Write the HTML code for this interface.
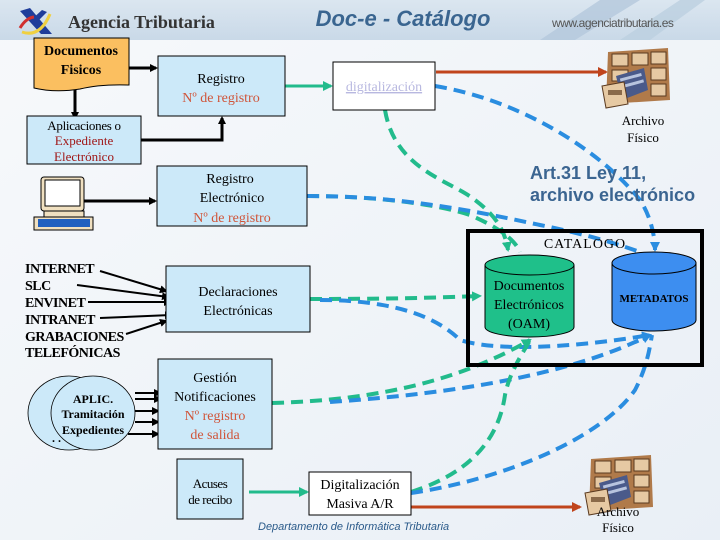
<!DOCTYPE html>
<html><head><meta charset="utf-8"><style>
html,body{margin:0;padding:0;}
body{width:720px;height:540px;overflow:hidden;background:#f3f6fa;}
svg{display:block;}
.s{font-family:"Liberation Serif",serif;}
</style></head><body>
<svg width="720" height="540" viewBox="0 0 720 540" xmlns="http://www.w3.org/2000/svg">
<defs>
<linearGradient id="hd" x1="0" y1="0" x2="0" y2="1"><stop offset="0" stop-color="#dbe6f0"/><stop offset="1" stop-color="#c9d9e8"/></linearGradient>
<linearGradient id="bg" x1="0" y1="0" x2="1" y2="1"><stop offset="0" stop-color="#f7f9fb"/><stop offset="1" stop-color="#e9eff6"/></linearGradient>
<marker id="ak" markerWidth="8" markerHeight="8" refX="6" refY="4" orient="auto" markerUnits="userSpaceOnUse"><path d="M0,0 L8,4 L0,8 z" fill="#000"/></marker>
<marker id="ag" markerWidth="10" markerHeight="10" refX="8" refY="5" orient="auto" markerUnits="userSpaceOnUse"><path d="M0,0 L10,5 L0,10 z" fill="#22bb8c"/></marker>
<marker id="ab" markerWidth="10" markerHeight="10" refX="8" refY="5" orient="auto" markerUnits="userSpaceOnUse"><path d="M0,0 L10,5 L0,10 z" fill="#2a8de0"/></marker>
<marker id="ar" markerWidth="10" markerHeight="10" refX="8" refY="5" orient="auto" markerUnits="userSpaceOnUse"><path d="M0,0 L10,5 L0,10 z" fill="#c0441c"/></marker>
<g id="cab">
<polygon points="8,4 68,0 70,52 6,56" fill="#b07a4a"/>
<g fill="#e6c9a3" stroke="#5a3a20" stroke-width="1">
<rect x="12" y="6" width="16" height="12"/><rect x="32" y="5" width="16" height="12"/><rect x="51" y="4" width="15" height="12"/>
<rect x="51" y="20" width="15" height="12"/><rect x="51" y="36" width="15" height="12"/><rect x="12" y="22" width="16" height="11"/>
</g>
<polygon points="16,28 44,20 48,42 22,52" fill="#4a5a8a"/>
<g fill="#b8c4de"><rect x="20" y="28" width="22" height="3" transform="rotate(-15 30 30)"/><rect x="22" y="35" width="22" height="3" transform="rotate(-15 30 36)"/></g>
<polygon points="2,38 24,34 28,56 6,60" fill="#e6c9a3" stroke="#5a3a20"/>
<rect x="8" y="42" width="14" height="5" fill="#8a6a4a"/>
</g>
</defs>
<rect width="720" height="540" fill="url(#bg)"/>
<rect width="720" height="40" fill="url(#hd)"/>
<path d="M540,40 L600,0 L640,0 L575,40z" fill="#b4c8dc" opacity=".8"/>
<path d="M620,40 L680,0 L705,0 L650,40z" fill="#bccfe0" opacity=".8"/>
<!-- logo -->
<polygon points="20,11 30,8 52,34 41,34" fill="#1f3d9a"/>
<polygon points="30,21 42,10 47,12 34,25" fill="#1f3d9a"/>
<path d="M20,28 Q26,18 34,17" stroke="#d03030" stroke-width="3" fill="none"/>
<path d="M22,32 Q40,38 50,14" stroke="#f0d040" stroke-width="3" fill="none"/>
<text x="68" y="28" class="s" font-size="18" font-weight="bold" fill="#333">Agencia Tributaria</text>
<text x="403" y="26" text-anchor="middle" font-family="Liberation Sans,sans-serif" font-size="22" font-style="italic" font-weight="bold" fill="#3a6590">Doc-e - Catálogo</text>
<text x="552" y="27" font-family="Liberation Sans,sans-serif" font-size="12" fill="#555" letter-spacing="-0.5">www.agenciatributaria.es</text>

<!-- dashed curves -->
<g fill="none" stroke-width="4" stroke-dasharray="12,7">
<path d="M385,110 C395,170 450,180 475,200 C495,215 505,230 508,250" stroke="#22bb8c" marker-end="url(#ag)"/>
<path d="M435,86 C520,100 600,150 640,200 C650,215 655,235 655,250" stroke="#2a8de0" marker-end="url(#ab)"/>
<path d="M307,196 C380,196 440,205 470,215 C500,228 515,240 520,252" stroke="#22bb8c"/>
<path d="M307,196 C400,196 470,210 540,225 C590,235 620,245 640,252" stroke="#2a8de0"/>
<path d="M310,299 C380,299 430,298 480,296" stroke="#22bb8c" marker-end="url(#ag)"/>
<path d="M320,300 C400,300 440,320 460,340 C490,350 560,350 650,335" stroke="#2a8de0" marker-end="url(#ab)"/>
<path d="M272,403 C380,400 460,380 530,340" stroke="#22bb8c" marker-end="url(#ag)"/>
<path d="M330,402 C430,395 560,380 650,335" stroke="#2a8de0" marker-end="url(#ab)"/>
<path d="M411,492 C480,470 500,430 505,395 C510,370 525,350 530,340" stroke="#22bb8c"/>
<path d="M411,493 C500,480 600,440 635,390 C648,365 650,345 652,335" stroke="#2a8de0"/>
</g>

<!-- solid arrows -->
<g stroke="#000" stroke-width="3" fill="none">
<path d="M129,68 L156,68" marker-end="url(#ak)"/>
<path d="M75,88 L75,118" marker-end="url(#ak)"/>
<path d="M141,140 L222,140 L222,118" marker-end="url(#ak)"/>
<path d="M78,201 L155,201" marker-end="url(#ak)"/>
</g>
<g stroke="#000" stroke-width="2" fill="none">
<path d="M100,271 L166,291" marker-end="url(#ak)"/>
<path d="M77,285 L168,297" marker-end="url(#ak)"/>
<path d="M88,302 L170,302" marker-end="url(#ak)"/>
<path d="M100,318 L171,315" marker-end="url(#ak)"/>
<path d="M126,334 L166,321" marker-end="url(#ak)"/>
<path d="M135,393 L160,393"  marker-end="url(#ak)"/>
<path d="M135,399 L160,399" marker-end="url(#ak)"/>
<path d="M135,411 L158,411" marker-end="url(#ak)"/>
<path d="M135,422 L158,422" marker-end="url(#ak)"/>
<path d="M128,434 L158,434" marker-end="url(#ak)"/>
</g>
<path d="M285,86 L331,86" stroke="#22bb8c" stroke-width="3" marker-end="url(#ag)"/>
<path d="M249,492 L307,492" stroke="#22bb8c" stroke-width="3" marker-end="url(#ag)"/>
<path d="M436,72 L606,72" stroke="#c0441c" stroke-width="3" marker-end="url(#ar)"/>
<path d="M411,507 L580,507" stroke="#c0441c" stroke-width="3" marker-end="url(#ar)"/>

<!-- boxes -->
<path d="M34,38 L129,38 L129,85 Q100,84 80,89 Q55,93 34,88 Z" fill="#fbbf60" stroke="#000"/>
<text x="81" y="55" text-anchor="middle" class="s" font-size="14" font-weight="bold">Documentos</text>
<text x="81" y="74" text-anchor="middle" class="s" font-size="14" font-weight="bold">Fisicos</text>

<rect x="158" y="56" width="127" height="60" fill="#cce9f9" stroke="#000"/>
<text x="221" y="83" text-anchor="middle" class="s" font-size="14">Registro</text>
<text x="221" y="102" text-anchor="middle" class="s" font-size="14" fill="#d0553a">Nº de registro</text>

<rect x="333" y="62" width="102" height="48" fill="#fff" stroke="#000"/>
<text x="384" y="91" text-anchor="middle" class="s" font-size="14" fill="#b8b8e0" text-decoration="underline">digitalización</text>

<rect x="27" y="116" width="114" height="48" fill="#cce9f9" stroke="#000"/>
<text x="84" y="130" text-anchor="middle" class="s" font-size="13" letter-spacing="-0.3">Aplicaciones o</text>
<text x="84" y="145" text-anchor="middle" class="s" font-size="13" fill="#a01818">Expediente</text>
<text x="84" y="161" text-anchor="middle" class="s" font-size="13" fill="#a01818">Electrónico</text>

<rect x="157" y="166" width="150" height="60" fill="#cce9f9" stroke="#000"/>
<text x="230" y="183" text-anchor="middle" class="s" font-size="14">Registro</text>
<text x="232" y="202" text-anchor="middle" class="s" font-size="14">Electrónico</text>
<text x="232" y="222" text-anchor="middle" class="s" font-size="14" fill="#d0553a">Nº de registro</text>

<!-- computer -->
<rect x="41" y="177" width="43" height="34" rx="3" fill="#f0e0c0" stroke="#000"/>
<rect x="45" y="180" width="35" height="26" fill="#fff" stroke="#000"/>
<rect x="44" y="211" width="40" height="6" fill="#f0e0c0" stroke="#000"/>
<rect x="34" y="217" width="59" height="13" fill="#f0e0c0" stroke="#000"/>
<rect x="38" y="219" width="52" height="8" fill="#2060c0"/>

<use href="#cab" x="600" y="48"/>
<text x="643" y="125" text-anchor="middle" class="s" font-size="13">Archivo</text>
<text x="643" y="142" text-anchor="middle" class="s" font-size="13">Físico</text>

<text x="530" y="179" font-family="Liberation Sans,sans-serif" font-size="18" font-weight="bold" fill="#3b6591">Art.31 Ley 11,</text>
<text x="530" y="201" font-family="Liberation Sans,sans-serif" font-size="18" font-weight="bold" fill="#3b6591">archivo electrónico</text>

<rect x="468" y="231" width="234" height="134" fill="none" stroke="#000" stroke-width="4"/>
<text x="585" y="248" text-anchor="middle" class="s" font-size="14" letter-spacing="1">CATALOGO</text>

<path d="M485,265 L485,327 A44.5,10 0 0 0 574,327 L574,265" fill="#1fc08a" stroke="#000"/>
<ellipse cx="529.5" cy="265" rx="44.5" ry="10" fill="#1fc08a" stroke="#000"/>
<text x="529" y="290" text-anchor="middle" class="s" font-size="14">Documentos</text>
<text x="529" y="309" text-anchor="middle" class="s" font-size="14">Electrónicos</text>
<text x="529" y="328" text-anchor="middle" class="s" font-size="14">(OAM)</text>

<path d="M612,263 L612,320 A42,11 0 0 0 696,320 L696,263" fill="#3d8ef0" stroke="#000"/>
<ellipse cx="654" cy="263" rx="42" ry="11" fill="#3d8ef0" stroke="#000"/>
<text x="654" y="302" text-anchor="middle" class="s" font-size="11" font-weight="bold">METADATOS</text>

<g class="s" font-size="14" font-weight="bold" letter-spacing="-0.5">
<text x="25" y="273">INTERNET</text><text x="25" y="290">SLC</text><text x="25" y="307">ENVINET</text>
<text x="25" y="324">INTRANET</text><text x="25" y="341">GRABACIONES</text><text x="25" y="357">TELEFÓNICAS</text>
</g>

<rect x="166" y="266" width="144" height="66" fill="#cce9f9" stroke="#000"/>
<text x="238" y="296" text-anchor="middle" class="s" font-size="14">Declaraciones</text>
<text x="238" y="315" text-anchor="middle" class="s" font-size="14">Electrónicas</text>

<ellipse cx="69" cy="413" rx="41" ry="37" fill="#cce9f9" stroke="#000" stroke-width="0.8"/>
<ellipse cx="93" cy="413" rx="42" ry="37" fill="#cce9f9" stroke="#000" stroke-width="0.8"/>
<text x="93" y="403" text-anchor="middle" class="s" font-size="12" font-weight="bold">APLIC.</text>
<text x="93" y="418" text-anchor="middle" class="s" font-size="12" font-weight="bold">Tramitación</text>
<text x="93" y="434" text-anchor="middle" class="s" font-size="12" font-weight="bold">Expedientes</text>
<text x="52" y="442" class="s" font-size="12" font-weight="bold">. .</text>

<rect x="158" y="359" width="114" height="90" fill="#cce9f9" stroke="#000"/>
<text x="215" y="382" text-anchor="middle" class="s" font-size="14">Gestión</text>
<text x="215" y="401" text-anchor="middle" class="s" font-size="14">Notificaciones</text>
<text x="215" y="420" text-anchor="middle" class="s" font-size="14" fill="#d0553a">Nº registro</text>
<text x="215" y="439" text-anchor="middle" class="s" font-size="14" fill="#d0553a">de salida</text>

<rect x="177" y="459" width="66" height="60" fill="#cce9f9" stroke="#000"/>
<text x="210" y="488" text-anchor="middle" class="s" font-size="13" letter-spacing="-0.5">Acuses</text>
<text x="210" y="504" text-anchor="middle" class="s" font-size="13" letter-spacing="-0.5">de recibo</text>

<rect x="309" y="472" width="102" height="43" fill="#fff" stroke="#000"/>
<text x="360" y="489" text-anchor="middle" class="s" font-size="14">Digitalización</text>
<text x="360" y="508" text-anchor="middle" class="s" font-size="14">Masiva A/R</text>

<text x="258" y="530" font-family="Liberation Sans,sans-serif" font-size="11" font-style="italic" fill="#2a5a8a">Departamento de Informática Tributaria</text>

<use href="#cab" x="583" y="455"/>
<text x="618" y="516" text-anchor="middle" class="s" font-size="13">Archivo</text>
<text x="618" y="532" text-anchor="middle" class="s" font-size="13">Físico</text>
</svg>
</body></html>
